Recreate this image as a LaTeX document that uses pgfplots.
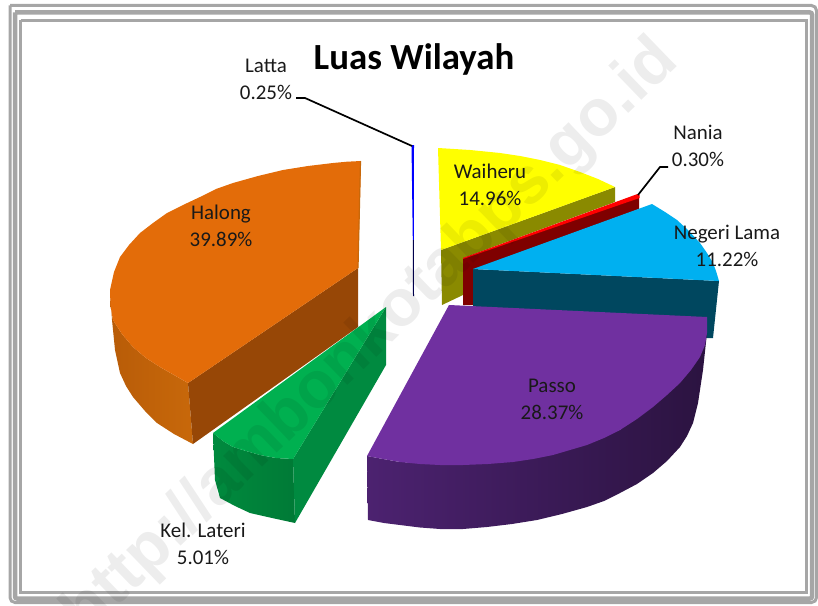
\documentclass[border=0pt]{standalone}
\usepackage{pgfplots}
\pgfplotsset{compat=1.18}
\usepackage{fontspec}
\setmainfont{Carlito}
\newfontfamily\wmfont{Liberation Sans}[BoldFont={Liberation Sans Bold}]
\definecolor{frameg}{HTML}{A6A6A6}
\definecolor{orT}{HTML}{E36C09}
\definecolor{orC}{HTML}{974706}
\definecolor{orA}{HTML}{B85C08}
\definecolor{orB}{HTML}{C8680A}
\definecolor{yeT}{HTML}{FFFF00}
\definecolor{yeC}{HTML}{8A8A00}
\definecolor{reT}{HTML}{FF0000}
\definecolor{reC}{HTML}{7F0000}
\definecolor{cyT}{HTML}{00B0F0}
\definecolor{cyC}{HTML}{00475F}
\definecolor{puT}{HTML}{7030A0}
\definecolor{puA}{HTML}{4C2270}
\definecolor{puB}{HTML}{2B1340}
\definecolor{grT}{HTML}{00B050}
\definecolor{grA}{HTML}{008A3E}
\definecolor{grB}{HTML}{007A36}
\definecolor{grC}{HTML}{008A40}
\begin{document}
\begin{tikzpicture}
\path[use as bounding box] (0,0) rectangle (818bp,606bp);
\begin{axis}[
  at={(0,0)}, anchor=south west,
  scale only axis, width=818bp, height=606bp,
  xmin=0, xmax=818, ymin=0, ymax=606, y dir=reverse,
  hide axis, clip=false, no markers,
]
% frame
\addplot[draw=frameg, line width=3bp, rounded corners=5bp] coordinates {(10,5.5)(816.5,5.5)(816.5,602.5)(10,602.5)(10,5.5)};
\addplot[draw=frameg, line width=4.5bp, rounded corners=2bp] coordinates {(15,12.5)(812,12.5)(812,598.5)(15,598.5)(15,12.5)};
\addplot[draw=frameg, line width=3bp] coordinates {(20.5,20.5)(806.5,20.5)(806.5,592.5)(20.5,592.5)(20.5,20.5)};
% Halong
\addplot[draw=none, left color=orA, right color=orB] coordinates {(110,290)(110.5,306)(113,320)(122,334)(133,347)(146,358)(160,367)(174,375)(188,383)(193,444)(174,434)(157,423)(145,411)(133,397)(126,386)(120,373)(115,350)(112,320)};
\addplot[draw=none, fill=orC] coordinates {(358,268)(188,383)(193,444)(358,327)};
\addplot[draw=none, fill=orT] coordinates {(361,161)(347,161.7)(333,163)(308,166)(283,170)(258,176)(233,183)(216,189)(200,197)(183,205)(167,213)(153,223)(140,233)(129,245)(120,257)(114,272)(110,290)(110.5,306)(113,320)(122,334)(133,347)(146,358)(160,367)(174,375)(188,383)(358,268)};
\addplot[draw=orB, line width=1.2bp] coordinates {(360.5,161)(358,268)};
% Latta
\addplot[draw=none, fill=blue] coordinates {(411.5,145)(414,145)(413.8,240)(412.8,240)};
\addplot[draw=none, fill=blue!30!black] coordinates {(412.8,240)(413.8,240)(414,296)(413,296)};
\addplot[draw=black, line width=1.7bp] coordinates {(296,98)(305,98)(412,146)};
% Waiheru
\addplot[draw=none, fill=yeC] coordinates {(615,187)(441,250)(442,305)(463,295)(463,258)(615,202)};
\addplot[draw=none, fill=yeT] coordinates {(438,148)(470,150)(500,153)(520,156)(540,160)(560,165)(580,172)(598,179)(615,187)(441,250)};
% Nania
\addplot[draw=none, fill=reC] coordinates {(463,258)(639,197)(639,209)(473,270)(473,305)(463,305)};
\addplot[draw=none, fill=reT] coordinates {(637.5,194)(639.5,195)(639.5,198)(463,259)(463,258)};
\addplot[draw=black, line width=1.7bp] coordinates {(638,195)(660,167)(668,167)};
% Negeri Lama
\addplot[draw=none, fill=cyC] coordinates {(473,269)(719,281)(713,338)(700,338)(473,320)};
\addplot[draw=none, fill=cyT] coordinates {(473,269)(652,204)(665,212)(677,220)(689,231)(700,243)(707,253)(713,263)(716,271)(719,281)};
% Passo
\addplot[draw=none, left color=puA, right color=puB] coordinates {(707,333)(703,370)(698,403)(693,423)(687,436)(680,447)(667,461)(653,473)(637,484)(620,493)(604,501)(587,507)(562,514)(537,520)(512,524)(487,527)(463,529)(440,529)(420,527.5)(400,525)(384,523)(368,520)(367,456)(383,459)(400,462)(463,465)(620,430)};
\addplot[draw=none, fill=puT] coordinates {(449,305)(707,317)(707,333)(705,345)(700,357)(691,370)(680,383)(667,395)(653,407)(637,419)(620,430)(604,438)(587,445)(570,450)(553,455)(533,459)(513,462)(488,464)(463,465)(440,465)(420,464)(400,462)(383,459)(367,456)};
% Kel. Lateri
\addplot[draw=none, left color=grA, right color=grB] coordinates {(213,433)(223,441)(233,447)(246,451)(260,455)(276,458)(293,459)(295,523)(272,518)(250,513)(235,506)(220,498)(215,480)};
\addplot[draw=none, fill=grC] coordinates {(386,307)(293,459)(295,523)(386,365)};
\addplot[draw=none, fill=grT] coordinates {(386,307)(213,433)(223,441)(233,447)(246,451)(260,455)(276,458)(293,459)};
% watermark
\node[overlay, font=\wmfont\fontsize{66}{66}\selectfont\bfseries, text=black, opacity=0.07, rotate=44, inner sep=0pt] at (axis cs:372,338) {http://ambonkotabps.go.id};
% labels
\node[font=\fontsize{21}{21}\selectfont, align=center, text=black!90, inner sep=0pt] at (axis cs:266,79) {Latta\\[6bp]0.25\%};
\node[font=\fontsize{21}{21}\selectfont, align=center, text=black!90, inner sep=0pt] at (axis cs:221,225.5) {Halong\\[6bp]39.89\%};
\node[font=\fontsize{21}{21}\selectfont, align=center, text=black!90, inner sep=0pt] at (axis cs:490,184.5) {Waiheru\\[6bp]14.96\%};
\node[font=\fontsize{21}{21}\selectfont, align=center, text=black!90, inner sep=0pt] at (axis cs:698,145.5) {Nania\\[6bp]0.30\%};
\node[font=\fontsize{21}{21}\selectfont, align=center, text=black!90, inner sep=0pt] at (axis cs:727,245.5) {Negeri Lama\\[6bp]11.22\%};
\node[font=\fontsize{21}{21}\selectfont, align=center, text=black!90, inner sep=0pt] at (axis cs:552,399) {Passo\\[6bp]28.37\%};
\node[font=\fontsize{21}{21}\selectfont, align=center, text=black!90, inner sep=0pt] at (axis cs:203,543.5) {Kel. Lateri\\[6bp]5.01\%};
\node[font=\fontsize{37}{37}\selectfont\bfseries, text=black, inner sep=0pt] at (axis cs:414,59) {Luas Wilayah};
\end{axis}
\end{tikzpicture}
\end{document}
